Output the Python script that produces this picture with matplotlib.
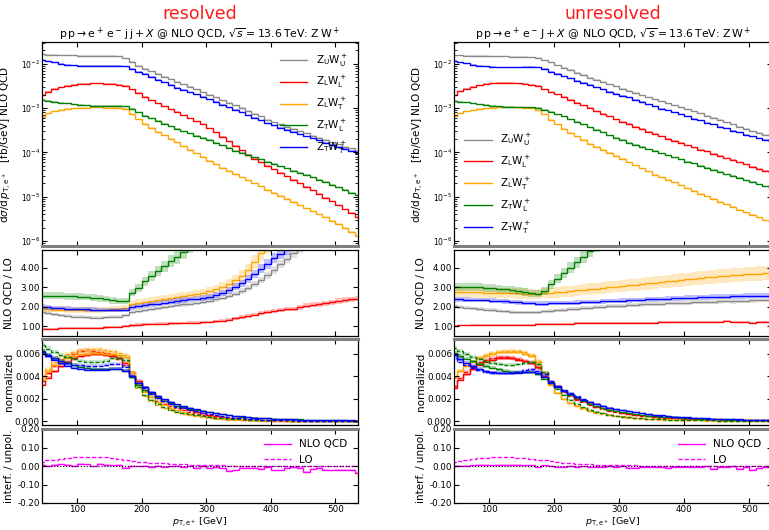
import numpy as np
import matplotlib
matplotlib.use("Agg")
import matplotlib.pyplot as plt
from matplotlib.ticker import FixedLocator, FormatStrFormatter, LogLocator, NullFormatter
from matplotlib.lines import Line2D

# ---------------- data ----------------
bin_edges = list(range(40, 550, 10))          # p_T,e+ bins [GeV]
series = ["UU", "LL", "LT", "TL", "TT"]
labels = {"UU": r"$\mathrm{Z_U W_U^+}$", "LL": r"$\mathrm{Z_L W_L^+}$",
          "LT": r"$\mathrm{Z_L W_T^+}$", "TL": r"$\mathrm{Z_T W_L^+}$",
          "TT": r"$\mathrm{Z_T W_T^+}$"}
colors = {"UU": "#8a8a8a", "LL": "#ff0000", "LT": "#ffa500", "TL": "#008000", "TT": "#0000ff"}

# log10 of NLO dsigma/dpT [fb/GeV], resolved
lg_res_UU = [-1.790,-1.796,-1.801,-1.807,-1.810,-1.812,-1.815,-1.818,-1.818,-1.821,-1.821,-1.824,-1.830,-1.880,
             -1.96,-2.04,-2.11,-2.17,-2.23,-2.29,-2.35,-2.41,-2.46,-2.52,-2.58,-2.64,-2.70,-2.76,-2.82,-2.88,-2.94,-3.00,-3.06,-3.13,-3.19,-3.26,-3.32,-3.37,-3.42,-3.47,
             -3.52,-3.57,-3.62,-3.67,-3.72,-3.77,-3.82,-3.87,-3.91,-3.96]
lg_res_LL = [-2.708,-2.629,-2.569,-2.526,-2.495,-2.471,-2.456,-2.446,-2.444,-2.444,-2.448,-2.455,-2.470,-2.500,
             -2.58,-2.66,-2.74,-2.82,-2.89,-2.96,-3.03,-3.09,-3.16,-3.23,-3.30,-3.37,-3.46,-3.55,-3.65,-3.75,-3.85,-3.95,-4.05,-4.14,-4.22,-4.30,-4.38,-4.46,-4.54,-4.62,
             -4.70,-4.78,-4.86,-4.94,-5.02,-5.10,-5.19,-5.28,-5.37,-5.47]
lg_res_LT = [-3.20,-3.12,-3.07,-3.04,-3.02,-3.005,-2.995,-2.99,-2.985,-2.985,-2.99,-2.995,-3.00,-3.01,
             -3.13,-3.25,-3.35,-3.44,-3.53,-3.61,-3.69,-3.77,-3.86,-3.94,-4.02,-4.10,-4.19,-4.27,-4.35,-4.42,-4.49,-4.56,-4.63,-4.70,-4.77,-4.84,-4.91,-4.98,-5.05,-5.12,
             -5.19,-5.26,-5.33,-5.40,-5.47,-5.54,-5.61,-5.70,-5.79,-5.88]
lg_res_TL = [-2.818,-2.839,-2.860,-2.879,-2.896,-2.910,-2.924,-2.935,-2.943,-2.947,-2.947,-2.943,-2.943,-2.959,
             -3.02,-3.10,-3.17,-3.23,-3.29,-3.35,-3.41,-3.47,-3.52,-3.57,-3.62,-3.67,-3.72,-3.78,-3.84,-3.90,-3.96,-4.01,-4.06,-4.11,-4.16,-4.21,-4.26,-4.31,-4.36,-4.41,
             -4.46,-4.51,-4.56,-4.62,-4.67,-4.73,-4.79,-4.85,-4.91,-4.97]
lg_res_TT = [-1.920,-1.947,-1.971,-1.996,-2.018,-2.032,-2.041,-2.048,-2.051,-2.051,-2.048,-2.043,-2.041,-2.060,
             -2.11,-2.18,-2.23,-2.30,-2.36,-2.42,-2.48,-2.54,-2.59,-2.64,-2.69,-2.74,-2.80,-2.86,-2.92,-2.98,-3.04,-3.10,-3.16,-3.22,-3.28,-3.34,-3.39,-3.44,-3.49,-3.54,
             -3.59,-3.64,-3.68,-3.73,-3.78,-3.83,-3.88,-3.92,-3.96,-4.01]

# log10 of NLO dsigma/dpT [fb/GeV], unresolved
lg_unr_UU = [-1.810,-1.812,-1.815,-1.818,-1.821,-1.824,-1.827,-1.830,-1.833,-1.836,-1.839,-1.845,-1.851,-1.870,
             -1.92,-1.97,-2.03,-2.09,-2.14,-2.20,-2.25,-2.31,-2.36,-2.41,-2.46,-2.51,-2.56,-2.61,-2.66,-2.71,-2.76,-2.80,-2.85,-2.89,-2.94,-2.98,-3.03,-3.07,-3.12,-3.17,
             -3.22,-3.27,-3.32,-3.37,-3.42,-3.47,-3.52,-3.56,-3.60,-3.64]
lg_unr_LL = [-2.708,-2.620,-2.561,-2.516,-2.481,-2.458,-2.444,-2.434,-2.432,-2.434,-2.444,-2.456,-2.469,-2.500,
             -2.58,-2.64,-2.69,-2.75,-2.81,-2.88,-2.94,-3.00,-3.07,-3.13,-3.19,-3.25,-3.31,-3.36,-3.42,-3.47,-3.53,-3.58,-3.64,-3.69,-3.74,-3.79,-3.84,-3.89,-3.94,-3.98,
             -4.03,-4.08,-4.13,-4.17,-4.22,-4.27,-4.32,-4.37,-4.42,-4.47]
lg_unr_LT = [-3.180,-3.119,-3.076,-3.046,-3.022,-3.004,-2.991,-2.983,-2.979,-2.979,-2.983,-2.991,-3.009,-3.050,
             -3.14,-3.26,-3.37,-3.47,-3.56,-3.64,-3.72,-3.80,-3.87,-3.94,-4.01,-4.08,-4.15,-4.22,-4.29,-4.36,-4.43,-4.50,-4.56,-4.62,-4.68,-4.74,-4.81,-4.87,-4.93,-4.99,
             -5.05,-5.11,-5.17,-5.23,-5.29,-5.35,-5.41,-5.47,-5.53,-5.59]
lg_unr_TL = [-2.836,-2.854,-2.873,-2.893,-2.910,-2.928,-2.943,-2.955,-2.967,-2.975,-2.979,-2.979,-2.979,-3.000,
             -3.04,-3.09,-3.14,-3.19,-3.25,-3.31,-3.37,-3.43,-3.49,-3.55,-3.61,-3.67,-3.72,-3.78,-3.83,-3.88,-3.93,-3.97,-4.02,-4.07,-4.11,-4.16,-4.21,-4.25,-4.30,-4.35,
             -4.39,-4.44,-4.49,-4.53,-4.58,-4.63,-4.67,-4.72,-4.77,-4.82]
lg_unr_TT = [-1.939,-1.967,-1.991,-2.018,-2.041,-2.060,-2.071,-2.076,-2.078,-2.078,-2.076,-2.071,-2.066,-2.080,
             -2.11,-2.18,-2.23,-2.28,-2.33,-2.38,-2.43,-2.48,-2.53,-2.58,-2.63,-2.68,-2.72,-2.76,-2.81,-2.86,-2.91,-2.96,-3.01,-3.05,-3.10,-3.14,-3.19,-3.24,-3.28,-3.33,
             -3.37,-3.42,-3.46,-3.51,-3.55,-3.60,-3.64,-3.68,-3.72,-3.77]

# NLO QCD / LO ratios, resolved
k_res_UU = [1.74,1.68,1.62,1.57,1.53,1.50,1.48,1.46,1.45,1.45,1.46,1.48,1.50,1.56,
            1.74,1.79,1.84,1.89,1.94,1.99,2.03,2.07,2.12,2.16,2.21,2.27,2.32,2.38,2.46,2.56,2.68,2.82,2.98,3.16,3.38,3.62,3.90,4.20,4.48,4.75,
            5.00,5.25,5.50,5.75,6.00,6.25,6.50,6.75,7.00,7.25]
k_res_LL = [0.88,0.88,0.88,0.89,0.89,0.90,0.90,0.91,0.92,0.93,0.94,0.96,0.98,1.01,
            1.04,1.08,1.10,1.12,1.13,1.14,1.15,1.16,1.17,1.18,1.19,1.20,1.22,1.25,1.29,1.34,1.41,1.47,1.54,1.60,1.66,1.73,1.80,1.84,1.88,1.90,
            1.98,2.05,2.10,2.14,2.18,2.24,2.30,2.34,2.38,2.42]
k_res_LT = [1.88,1.87,1.86,1.86,1.85,1.85,1.85,1.85,1.85,1.85,1.86,1.87,1.89,1.92,
            2.15,2.20,2.26,2.31,2.37,2.42,2.47,2.52,2.57,2.62,2.67,2.72,2.80,2.90,3.02,3.18,3.36,3.58,3.90,4.30,4.75,5.20,5.70,6.20,6.70,7.20,
            7.70,8.20,8.70,9.20,9.70,10.2,10.7,11.2,11.7,12.2]
k_res_TL = [2.56,2.56,2.56,2.56,2.55,2.54,2.52,2.50,2.47,2.43,2.39,2.33,2.30,2.31,
            2.73,2.98,3.32,3.58,3.83,4.08,4.34,4.54,4.81,5.10,5.40,5.70,6.00,6.30,6.60,6.90,7.20,7.50,7.80,8.10,8.40,8.70,9.00,9.30,9.60,9.90,
            10.2,10.5,10.8,11.1,11.4,11.7,12.0,12.3,12.6,12.9]
k_res_TT = [2.00,1.98,1.95,1.93,1.91,1.90,1.88,1.87,1.86,1.85,1.84,1.83,1.83,1.85,
            1.97,2.02,2.07,2.12,2.17,2.21,2.26,2.30,2.34,2.38,2.42,2.46,2.52,2.60,2.70,2.85,3.02,3.20,3.42,3.68,3.95,4.22,4.50,4.72,4.95,5.20,
            5.45,5.70,5.95,6.20,6.45,6.70,6.95,7.20,7.45,7.70]

# NLO QCD / LO ratios, unresolved
k_unr_UU = [2.05,2.00,1.96,1.92,1.89,1.86,1.83,1.80,1.77,1.74,1.72,1.71,1.71,1.72,
            1.76,1.79,1.82,1.85,1.88,1.90,1.93,1.95,1.98,2.00,2.02,2.04,2.06,2.08,2.10,2.12,2.14,2.15,2.17,2.18,2.20,2.21,2.22,2.24,2.25,2.26,
            2.27,2.28,2.30,2.28,2.31,2.32,2.33,2.34,2.35,2.36]
k_unr_LL = [1.03,1.04,1.04,1.05,1.05,1.06,1.06,1.07,1.07,1.08,1.08,1.09,1.09,1.10,
            1.11,1.12,1.13,1.13,1.14,1.15,1.15,1.16,1.16,1.17,1.17,1.17,1.18,1.18,1.18,1.19,1.19,1.19,1.20,1.20,1.20,1.21,1.21,1.22,1.21,1.22,
            1.24,1.22,1.25,1.21,1.22,1.21,1.17,1.24,1.24,1.21]
k_unr_LT = [2.78,2.77,2.76,2.75,2.74,2.73,2.72,2.72,2.71,2.70,2.69,2.68,2.67,2.67,
            2.70,2.72,2.75,2.78,2.81,2.85,2.88,2.91,2.94,2.97,3.01,3.04,3.08,3.11,3.14,3.18,3.21,3.24,3.28,3.31,3.35,3.38,3.42,3.45,3.48,3.51,
            3.54,3.57,3.60,3.62,3.65,3.67,3.69,3.71,3.73,3.75]
k_unr_TL = [3.02,3.03,3.03,3.02,3.00,2.98,2.96,2.93,2.89,2.85,2.80,2.75,2.70,2.67,
            2.82,3.15,3.45,3.72,4.00,4.28,4.58,4.88,5.20,5.50,5.80,6.10,6.40,6.70,7.00,7.30,7.60,7.90,8.20,8.50,8.80,9.10,9.40,9.70,10.0,10.3,
            10.6,10.9,11.2,11.5,11.8,12.1,12.4,12.7,13.0,13.3]
k_unr_TT = [2.39,2.38,2.37,2.36,2.35,2.34,2.32,2.30,2.28,2.26,2.23,2.20,2.18,2.17,
            2.17,2.18,2.19,2.20,2.21,2.22,2.24,2.25,2.26,2.28,2.29,2.30,2.32,2.33,2.35,2.36,2.38,2.39,2.40,2.42,2.43,2.44,2.46,2.47,2.48,2.50,
            2.51,2.52,2.53,2.54,2.55,2.56,2.57,2.57,2.58,2.59]

# relative scale-uncertainty half widths of the NLO/LO ratio
unc_res = {"UU": 0.05, "LL": 0.06, "LT": 0.08, "TL": 0.07, "TT": 0.06}
unc_unr = {"UU": 0.05, "LL": 0.04, "LT": 0.10, "TL": 0.07, "TT": 0.05}
unc_xs = 0.03

# interference / unpolarised
int_res_nlo = [0.005,0.000,0.007,0.009,0.005,0.002,0.012,0.009,-0.002,0.012,0.007,0.004,0.005,-0.009,
               0.002,-0.002,0.000,-0.005,0.002,-0.004,-0.002,0.000,-0.005,-0.002,-0.009,0.000,-0.009,-0.005,-0.012,-0.027,-0.023,-0.012,-0.012,-0.009,-0.016,-0.005,-0.023,-0.023,-0.009,-0.007,
               -0.009,-0.030,-0.016,-0.012,-0.021,-0.023,-0.021,-0.020,-0.020,-0.037]
int_res_lo = [0.023,0.030,0.035,0.040,0.043,0.046,0.048,0.049,0.049,0.048,0.046,0.042,0.036,0.030,
              0.025,0.021,0.019,0.017,0.015,0.014,0.013,0.012,0.010,0.008,0.007,0.006,0.005,0.004,0.003,0.002,0.002,0.001,0.001,0.001,0.0,0.0,0.0,0.0,0.0,0.0,
              0.0,0.0,0.0,0.0,0.0,0.0,0.0,0.0,0.0,0.0]
int_unr_nlo = [0.000,0.002,0.002,0.004,0.005,0.006,0.004,0.005,0.006,0.008,0.005,0.004,0.004,-0.008,
               0.004,-0.001,-0.006,-0.006,-0.002,-0.004,-0.002,-0.005,-0.003,-0.004,-0.002,-0.005,-0.002,-0.012,-0.011,-0.005,-0.007,-0.004,-0.008,-0.010,-0.006,-0.003,-0.005,-0.008,-0.004,-0.002,
               -0.016,-0.005,-0.003,-0.002,-0.015,-0.008,-0.020,-0.013,-0.008,-0.010]
int_unr_lo = [0.022,0.028,0.034,0.038,0.041,0.044,0.046,0.047,0.048,0.047,0.045,0.042,0.038,0.034,
              0.030,0.025,0.021,0.018,0.015,0.013,0.011,0.010,0.008,0.007,0.006,0.005,0.004,0.003,0.003,0.002,0.002,0.001,0.001,0.001,0.0,0.0,0.0,0.0,0.0,0.0,
              0.0,0.0,0.0,0.0,0.0,0.0,0.0,0.0,0.0,0.0]
int_unc = 0.004

columns = [
    dict(title="resolved",
         sub=r"$\mathrm{p\,p} \rightarrow \mathrm{e^+\,e^-\,j\,j} + X$ @ NLO QCD, $\sqrt{s} = 13.6\,\mathrm{TeV}$: $\mathrm{Z\,W^+}$",
         lg={"UU": lg_res_UU, "LL": lg_res_LL, "LT": lg_res_LT, "TL": lg_res_TL, "TT": lg_res_TT},
         k={"UU": k_res_UU, "LL": k_res_LL, "LT": k_res_LT, "TL": k_res_TL, "TT": k_res_TT},
         unc=unc_res, inlo=int_res_nlo, ilo=int_res_lo, legloc="upper right"),
    dict(title="unresolved",
         sub=r"$\mathrm{p\,p} \rightarrow \mathrm{e^+\,e^-\,J} + X$ @ NLO QCD, $\sqrt{s} = 13.6\,\mathrm{TeV}$: $\mathrm{Z\,W^+}$",
         lg={"UU": lg_unr_UU, "LL": lg_unr_LL, "LT": lg_unr_LT, "TL": lg_unr_TL, "TT": lg_unr_TT},
         k={"UU": k_unr_UU, "LL": k_unr_LL, "LT": k_unr_LT, "TL": k_unr_TL, "TT": k_unr_TT},
         unc=unc_unr, inlo=int_unr_nlo, ilo=int_unr_lo, legloc="lower left"),
]

# ---------------- figure ----------------
W, H = 769, 530
fig = plt.figure(figsize=(W / 100, H / 100), dpi=100)
edges = np.array(bin_edges, dtype=float)
widths = np.diff(edges)

col_x = [(42, 316), (454, 318)]
rows = [(42, 246), (250, 336), (339, 425), (429, 503)]

def fr(x0, w, ytop, ybot):
    return [x0 / W, 1 - ybot / H, w / W, (ybot - ytop) / H]

def style(ax, last=False):
    ax.tick_params(axis="both", which="both", direction="in", top=True, right=True,
                   labelsize=6.3, pad=1.5)
    ax.tick_params(which="major", length=3.5, width=0.8)
    ax.tick_params(which="minor", length=2, width=0.6)
    ax.set_xlim(45.5, 535)
    ax.xaxis.set_major_locator(FixedLocator([100, 200, 300, 400, 500]))
    if not last:
        ax.tick_params(axis="x", labelbottom=False)
    for sp in ax.spines.values():
        sp.set_linewidth(0.9)

for ci, col in enumerate(columns):
    x0, w = col_x[ci]
    axs = [fig.add_axes(fr(x0, w, *r)) for r in rows]
    a_top, a_rat, a_nrm, a_int = axs
    for i, ax in enumerate(axs):
        style(ax, last=(i == 3))
        ax.yaxis.set_label_coords(-0.088, 0.5)

    handles = []
    for s in series:
        c = colors[s]
        nlo = 10 ** np.array(col["lg"][s])
        k = np.array(col["k"][s])
        u = col["unc"][s]
        # top panel
        a_top.stairs(nlo * (1 + unc_xs), edges, baseline=nlo * (1 - unc_xs), fill=True,
                     color=c, alpha=0.3, lw=0)
        a_top.stairs(nlo, edges, color=c, lw=1.0)
        # ratio panel
        a_rat.stairs(k * (1 + u), edges, baseline=k * (1 - u), fill=True, color=c, alpha=0.25, lw=0)
        a_rat.stairs(k, edges, color=c, lw=1.0)
        # normalised panel (polarised only)
        if s != "UU":
            lo = nlo / k
            n_nlo = nlo / np.sum(nlo * widths)
            n_lo = lo / np.sum(lo * widths)
            a_nrm.stairs(n_nlo * (1 + unc_xs), edges, baseline=n_nlo * (1 - unc_xs), fill=True,
                         color=c, alpha=0.3, lw=0)
            a_nrm.stairs(n_lo * (1 + unc_xs), edges, baseline=n_lo * (1 - unc_xs), fill=True,
                         color=c, alpha=0.2, lw=0)
            a_nrm.stairs(n_nlo, edges, color=c, lw=1.0)
            a_nrm.stairs(n_lo, edges, color=c, lw=1.0, linestyle=(0, (3, 1.5)))
        handles.append(Line2D([], [], color=c, lw=1.0, label=labels[s]))

    # interference panel
    inlo = np.array(col["inlo"])
    ilo = np.array(col["ilo"])
    a_int.stairs(inlo + int_unc, edges, baseline=inlo - int_unc, fill=True, color="#ff00ff", alpha=0.25, lw=0)
    a_int.stairs(inlo, edges, color="#ff00ff", lw=1.0)
    a_int.stairs(ilo, edges, color="#ff00ff", lw=1.0, linestyle=(0, (3, 1.5)))
    a_int.axhline(0, color="black", lw=0.8, ls=":")
    a_int.legend(handles=[Line2D([], [], color="#ff00ff", lw=1.0, label="NLO QCD"),
                          Line2D([], [], color="#ff00ff", lw=1.0, ls=(0, (3, 1.5)), label="LO")],
                 loc="upper right", frameon=False, fontsize=7.5, handlelength=2.6,
                 borderaxespad=0.6, labelspacing=0.5)

    # axes ranges / ticks
    a_top.set_yscale("log")
    a_top.set_ylim(7.7e-7, 3.1e-2)
    a_top.yaxis.set_major_locator(LogLocator(base=10, numticks=10))
    a_top.yaxis.set_minor_locator(LogLocator(base=10, subs=np.arange(2, 10), numticks=10))
    a_top.yaxis.set_minor_formatter(NullFormatter())
    a_top.tick_params(axis="y", labelsize=5.5)
    a_top.set_ylabel(r"d$\sigma$/d$\,p_{\mathrm{T,e^+}}$   [fb/GeV] NLO QCD", fontsize=7.5)
    a_top.legend(handles=handles, loc=col["legloc"], frameon=False, fontsize=7.5,
                 handlelength=2.6, labelspacing=0.55, borderaxespad=0.6)

    a_rat.set_ylim(0.5, 4.92)
    a_rat.yaxis.set_major_locator(FixedLocator([1, 2, 3, 4]))
    a_rat.yaxis.set_major_formatter(FormatStrFormatter("%.2f"))
    a_rat.set_ylabel("NLO QCD / LO", fontsize=7.5)

    a_nrm.set_ylim(-0.00035, 0.0073)
    a_nrm.yaxis.set_major_locator(FixedLocator([0, 0.002, 0.004, 0.006]))
    a_nrm.yaxis.set_major_formatter(FormatStrFormatter("%.3f"))
    a_nrm.set_ylabel("normalized", fontsize=7.5)

    a_int.set_ylim(-0.2, 0.2)
    a_int.yaxis.set_major_locator(FixedLocator([-0.2, -0.1, 0, 0.1, 0.2]))
    a_int.yaxis.set_major_formatter(FormatStrFormatter("%.2f"))
    a_int.set_ylabel("interf. / unpol.", fontsize=7.5)
    a_int.set_xlabel(r"$p_{\mathrm{T,e^+}}$ [GeV]", fontsize=6.8)
    a_int.xaxis.set_label_coords(0.5, -0.16)
    a_int.xaxis.label.set_va("top")

    # panel separators
    a_top.spines["bottom"].set_color("#7f7f7f"); a_top.spines["bottom"].set_linewidth(2.2)
    a_nrm.spines["top"].set_color("#7f7f7f"); a_nrm.spines["top"].set_linewidth(2.2)
    a_int.spines["top"].set_color("#7f7f7f"); a_int.spines["top"].set_linewidth(2.2)

    xc = (x0 + w / 2) / W
    fig.text(xc, 1 - 14 / H, col["title"], color="#ff1a1a", fontsize=12.5, ha="center", va="center")
    fig.text(xc, 1 - 34 / H, col["sub"], fontsize=7.8, ha="center", va="center")

fig.savefig("out.png", dpi=100)
